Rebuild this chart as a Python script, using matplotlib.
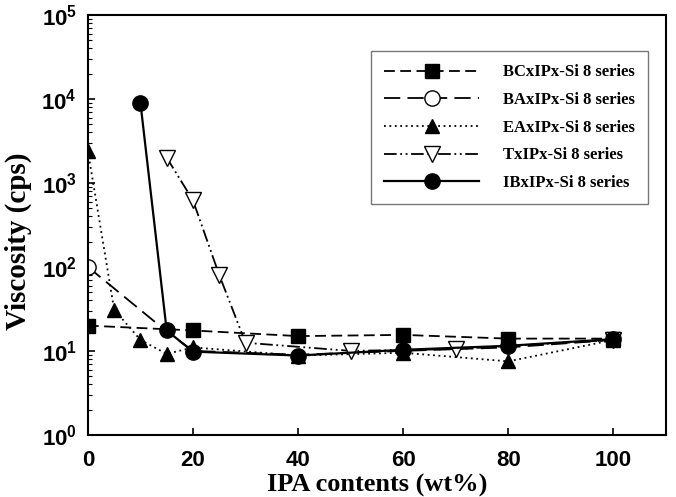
import numpy as np
import matplotlib
matplotlib.use('Agg')
import matplotlib.pyplot as plt
from matplotlib.ticker import LogLocator, FixedLocator, NullFormatter

# data
bc_x = [0, 20, 40, 60, 80, 100]
bc_y = [20, 17.5, 15, 15.5, 14, 14]

ba_x = [0, 15, 20, 40, 60, 80, 100]
ba_y = [100, 17, 10, 9, 10, 11, 13.5]

ea_x = [0, 5, 10, 15, 20, 40, 60, 80, 100]
ea_y = [2400, 31, 13.5, 9.2, 11, 8.8, 9.5, 7.5, 13.5]

tx_x = [15, 20, 25, 30, 50, 70, 100]
tx_y = [2000, 620, 80, 12.5, 10, 10.5, 13.5]

ib_x = [10, 15, 20, 40, 60, 80, 100]
ib_y = [9000, 17.5, 9.8, 8.8, 10.3, 11.5, 13.8]

labels = ['BCxIPx-Si 8 series', 'BAxIPx-Si 8 series', 'EAxIPx-Si 8 series',
          'TxIPx-Si 8 series', 'IBxIPx-Si 8 series']
xticks = [0, 20, 40, 60, 80, 100]

plt.rcParams['mathtext.fontset'] = 'custom'
plt.rcParams['mathtext.bf'] = 'Liberation Sans:bold'
plt.rcParams['mathtext.rm'] = 'Liberation Sans:bold'

fig = plt.figure(figsize=(6.76, 4.97), dpi=100)
ax = fig.add_axes([0.130, 0.125, 0.855, 0.845])

lw = 1.3
ax.plot(bc_x, bc_y, color='black', lw=lw, ls=(0, (6, 3)), marker='s', ms=9.5,
        mfc='black', mec='black', label=labels[0], zorder=3)
ax.plot(ba_x, ba_y, color='black', lw=lw, ls=(0, (9, 4)), marker='o', ms=11,
        mfc='white', mec='black', label=labels[1], zorder=2, markevery=[0])
ax.plot(ea_x, ea_y, color='black', lw=lw, ls=(0, (1, 2)), marker='^', ms=10,
        mfc='black', mec='black', label=labels[2], zorder=3)
ax.plot(tx_x, tx_y, color='black', lw=lw, ls=(0, (7, 2, 1, 2, 1, 2)), marker='v', ms=11,
        mfc='white', mec='black', label=labels[3], zorder=4)
ax.plot(ib_x, ib_y, color='black', lw=1.6, ls='-', marker='o', ms=11,
        mfc='black', mec='black', label=labels[4], zorder=5)

ax.set_yscale('log')
ax.set_ylim(1, 1e5)
ax.set_xlim(0, 110)
ax.xaxis.set_major_locator(FixedLocator(xticks))
ax.yaxis.set_minor_locator(LogLocator(base=10, subs=np.arange(2, 10), numticks=10))
ax.yaxis.set_minor_formatter(NullFormatter())
ax.set_yticks([1, 10, 100, 1000, 1e4, 1e5])
ax.set_yticklabels([r'$\mathbf{10^{%d}}$' % i for i in range(6)])
ax.set_xticklabels([str(v) for v in xticks])

ax.tick_params(axis='both', which='major', direction='in', length=5, width=1.2,
               labelsize=16)
ax.tick_params(axis='x', pad=11)
ax.tick_params(axis='y', pad=8)
ax.tick_params(axis='y', which='minor', direction='in', length=3, width=0.8)
for lab in ax.get_xticklabels():
    lab.set_fontfamily('Liberation Sans')
    lab.set_fontweight('bold')
for sp in ax.spines.values():
    sp.set_linewidth(1.5)

ax.set_xlabel('IPA contents (wt%)', fontfamily='Liberation Serif', fontweight='bold',
              fontsize=19, labelpad=2)
ax.set_ylabel('Viscosity (cps)', fontfamily='Liberation Serif', fontweight='bold',
              fontsize=21)
ax.yaxis.set_label_coords(-0.096, 0.462)

leg = ax.legend(loc='upper left', bbox_to_anchor=(0.49, 0.914), borderaxespad=0,
                fancybox=False, edgecolor='#777777', framealpha=1,
                handlelength=5.7, handletextpad=1.4, borderpad=0.8, labelspacing=0.7,
                prop={'family': 'Liberation Serif', 'weight': 'bold', 'size': 12})
leg.get_frame().set_linewidth(1.0)

fig.savefig('out.png', dpi=100)
